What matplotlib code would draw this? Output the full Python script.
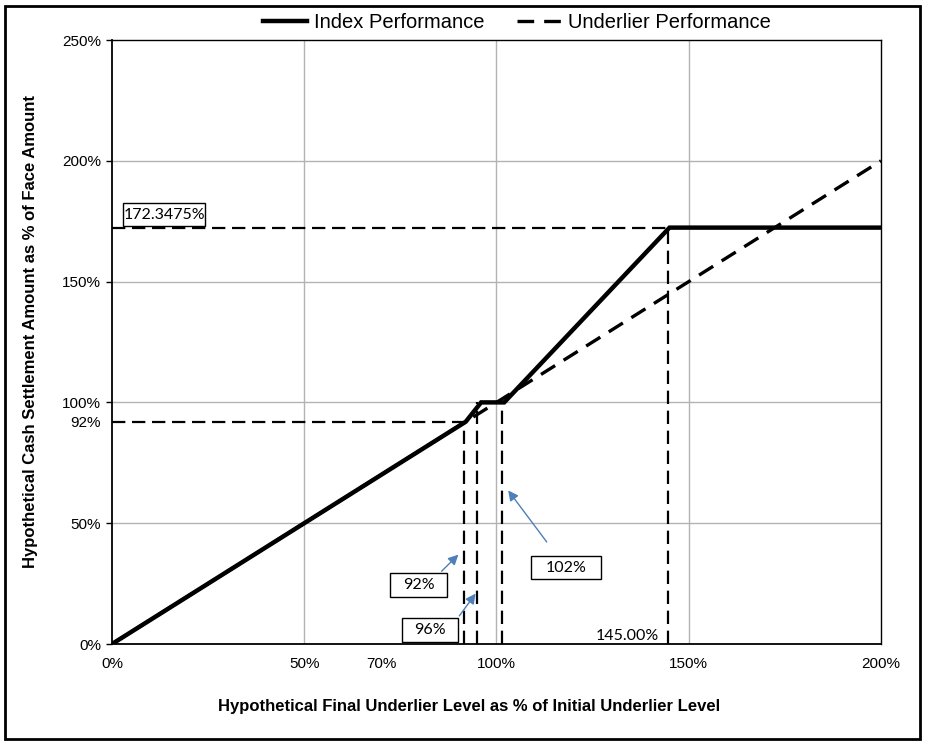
import matplotlib
matplotlib.use("Agg")
import matplotlib.pyplot as plt
from matplotlib.patches import Rectangle

# Data
index_x = [0, 92, 96, 102, 145, 200]
index_y = [0, 92, 100, 100, 172.3475, 172.3475]
under_x = [0, 200]
under_y = [0, 200]

x_tick_vals = [0, 50, 70, 100, 150, 200]
x_tick_labels = ["0%", "50%", "70%", "100%", "150%", "200%"]
y_tick_vals = [0, 50, 92, 100, 150, 200, 250]
y_tick_labels = ["0%", "50%", "92%", "100%", "150%", "200%", "250%"]

cap_level = 172.3475
buffer_level = 92
vlines = [(91.5, 92), (95, 100), (101.5, 100), (144.5, 172.3475)]

# annotation boxes: text, (x0, x1, y0, y1) in data units
box_labels = ["172.3475%", "92%", "96%", "102%"]
box_extents = [(2.9, 24.2, 173.0, 182.5), (72.3, 87.1, 19.5, 29.4),
               (75.4, 90.0, 0.8, 10.8), (109.0, 127.2, 26.9, 36.4)]

plt.rcParams['font.family'] = ['Liberation Sans', 'DejaVu Sans']

fig = plt.figure(figsize=(9.28, 7.45), dpi=100)
ax = fig.add_axes([112/928, 1-644/745, (881-112)/928, (644-40)/745])

# gridlines
for v in [50, 100, 150]:
    ax.axvline(v, color="#b3b3b3", lw=1, zorder=0)
for h in [50, 100, 150, 200]:
    ax.axhline(h, color="#b3b3b3", lw=1, zorder=0)

ref_dash = (0, (6, 3))
ax.plot([0, 91.5], [buffer_level, buffer_level], color="black", lw=1.6, ls=ref_dash, zorder=2)
ax.plot([0, 144.5], [cap_level, cap_level], color="black", lw=1.6, ls=ref_dash, zorder=2)
for vx, vy in vlines:
    ax.plot([vx, vx], [0, vy], color="black", lw=1.6, ls=ref_dash, zorder=2)

ax.plot(under_x, under_y, color="black", lw=2.4, ls=(0, (5, 3)), label="Underlier Performance", zorder=3)
ax.plot(index_x, index_y, color="black", lw=3.2, label="Index Performance", zorder=4,
        solid_joinstyle="miter")

ax.set_xlim(0, 200)
ax.set_ylim(0, 250)

ax.set_xticks(x_tick_vals)
ax.set_xticklabels(x_tick_labels, fontsize=11)
ax.tick_params(axis="x", length=0, pad=9)
ax.set_xticks([0, 100, 200], minor=True)
ax.tick_params(axis="x", which="minor", length=4, direction="out", width=1)
ax.set_yticks(y_tick_vals)
ax.set_yticklabels(y_tick_labels, fontsize=11)
ax.tick_params(axis="y", length=4, width=1, pad=4)
for t, v in zip(ax.yaxis.get_major_ticks(), y_tick_vals):
    if v == 92:
        t.tick1line.set_visible(False)

for s in ax.spines.values():
    s.set_color("black")
    s.set_linewidth(1)
ax.spines["left"].set_linewidth(1.3)
ax.spines["bottom"].set_linewidth(1.3)

ax.set_xlabel("Hypothetical Final Underlier Level as % of Initial Underlier Level",
              fontsize=12, fontweight="bold")
ax.set_ylabel("Hypothetical Cash Settlement Amount as % of Face Amount",
              fontsize=12, fontweight="bold")
ax.xaxis.set_label_coords((469-112)/769, (644-706)/604)
ax.yaxis.set_label_coords((31-112)/769, (644-332)/604)
ax.xaxis.label.set_va("center")
ax.yaxis.label.set_va("center")

bfont = dict(fontsize=11.5, family=["Lato", "DejaVu Sans"])
for lab, (x0, x1, y0, y1) in zip(box_labels, box_extents):
    ax.add_patch(Rectangle((x0, y0), x1 - x0, y1 - y0, fc="white", ec="black", lw=1, zorder=6))
    ax.text((x0 + x1) / 2, (y0 + y1) / 2, lab, ha="center", va="center", zorder=7, **bfont)
ax.text(142.3, 3.5, "145.00%", ha="right", va="center", **bfont)

arrow = dict(arrowstyle="-|>", color="#4f7fb8", lw=1, mutation_scale=15)
ax.annotate("", xy=(90.6, 37.8), xytext=(85.2, 29.3), arrowprops=arrow, zorder=5)
ax.annotate("", xy=(95.0, 21.8), xytext=(89.9, 10.7), arrowprops=arrow, zorder=5)
ax.annotate("", xy=(102.6, 64.5), xytext=(113.5, 41.3), arrowprops=arrow, zorder=5)

handles, labels = ax.get_legend_handles_labels()
leg = fig.legend(handles[::-1], labels[::-1], loc="center", bbox_to_anchor=(517/928, 1-23/745),
                 ncol=2, frameon=False, fontsize=14.5, handlelength=2.2, columnspacing=1.6,
                 handletextpad=0.35)

fig.patches.append(Rectangle((5/928, 6/745), 915/928, 733/745, transform=fig.transFigure,
                             fill=False, ec="black", lw=2))

fig.savefig("out.png", dpi=100)
